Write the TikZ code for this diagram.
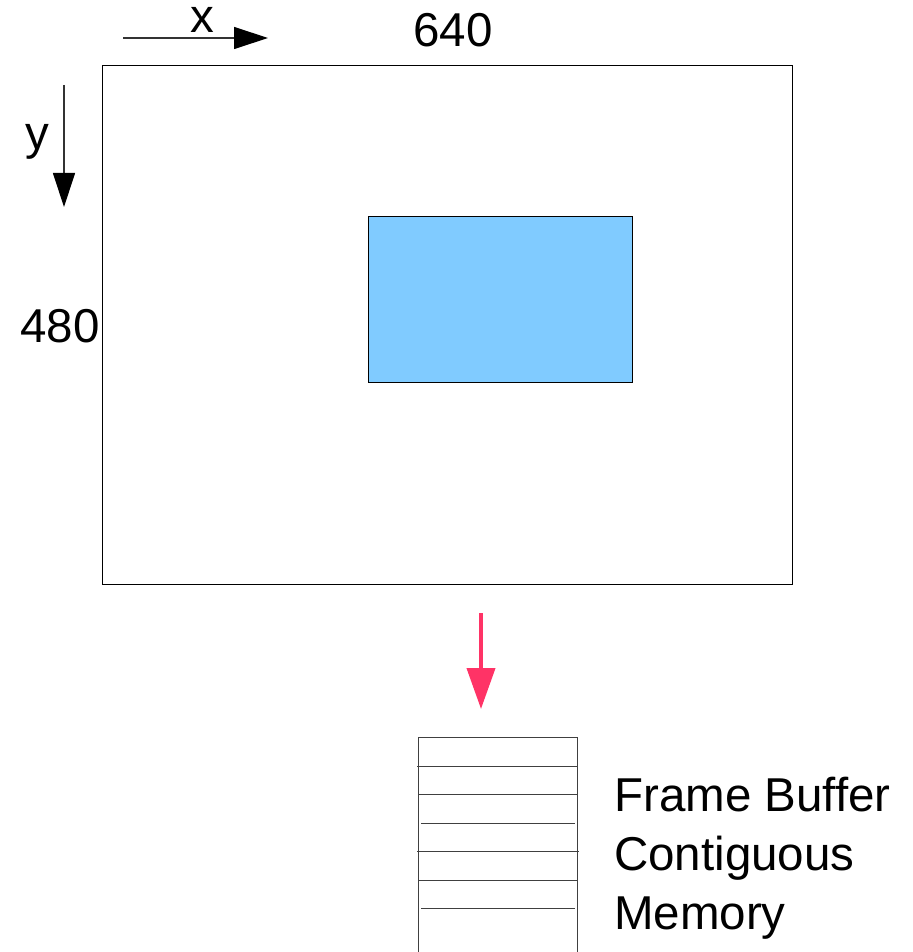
\documentclass[tikz,border=0pt]{standalone}
\usepackage{fontspec}
\setmainfont{Liberation Sans}
\usetikzlibrary{arrows.meta}
\definecolor{lightblue}{RGB}{128,203,255}
\definecolor{pinkred}{RGB}{255,51,102}
\tikzset{
  lbl/.style={font=\fontsize{47.5}{59}\selectfont, inner sep=0pt, anchor=base},
  axis/.style={draw=black!80, line width=1.2pt, -{Triangle[length=34pt,width=22pt,color=black]}},
  thin/.style={draw=black, line width=1pt},
  slot/.style={draw=black!75, line width=1pt},
}
\begin{document}
\begin{tikzpicture}[x=1pt,y=-1pt]
\useasboundingbox (0,0) rectangle (912,952);
% screen
\node[thin, minimum width=690pt, minimum height=519pt, inner sep=0pt, anchor=north west] (screen) at (102,65) {};
\node[thin, fill=lightblue, minimum width=264pt, minimum height=166pt, inner sep=0pt, anchor=north west] (win) at (368,216) {};
% axes
\coordinate (xs) at (123,38);
\coordinate (xe) at (268,38);
\draw[axis] (xs) -- (xe);
\node[lbl, text height=0.52em] (xl) at (202,33) {x};
\coordinate (ys) at (64,85);
\coordinate (ye) at (64,207);
\draw[axis] (ys) -- (ye);
\node[lbl] (yl) at (37,150) {y};
\node[lbl] (w) at (453,47) {640};
\node[lbl] (h) at (60,342) {480};
% red arrow
\coordinate (rs) at (481,613);
\coordinate (re) at (481,709);
\draw[draw=pinkred, line width=4pt, -{Triangle[length=41pt,width=28pt]}] (rs) -- (re);
% memory stack
\coordinate (m1) at (418,737);
\coordinate (m2) at (577,737);
\coordinate (m3) at (418,952);
\coordinate (m4) at (577,952);
\draw[slot] (m3) -- (m1) -- (m2) -- (m4);
\foreach \yy/\a/\b in {766/417/578, 794/418/577, 823/421/575, 851/417/579, 880/418/577, 908/421/575}{
  \draw[slot] (\a,\yy) -- (\b,\yy);
}
% label
\node[lbl, anchor=base west] (fb1) at (614,811) {Frame Buffer};
\node[lbl, anchor=base west] (fb2) at (614,870) {Contiguous};
\node[lbl, anchor=base west] (fb3) at (614,929) {Memory};
\end{tikzpicture}
\end{document}
